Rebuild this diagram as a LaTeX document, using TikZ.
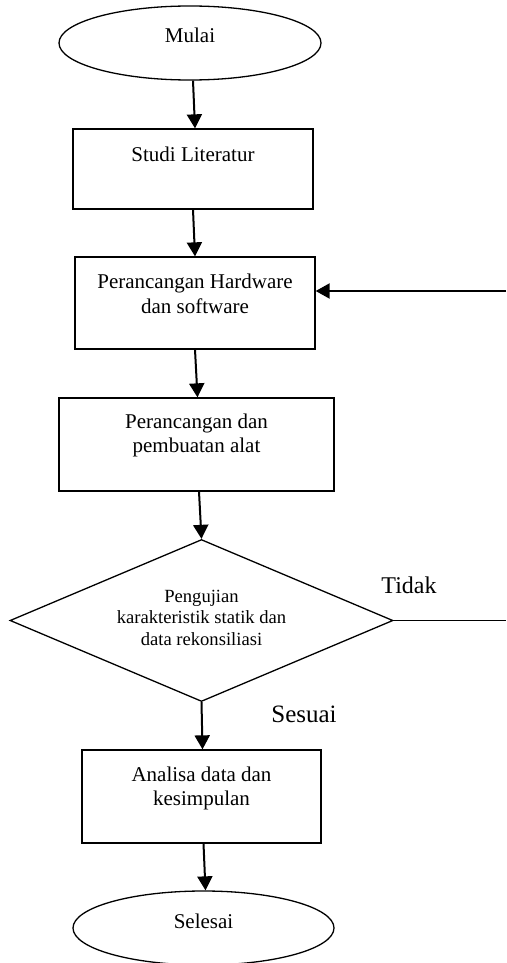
\documentclass[tikz,border=0pt]{standalone}
\usepackage{fontspec}
\setmainfont{Liberation Serif}
\usetikzlibrary{shapes.geometric,arrows.meta}
\begin{document}
\begin{tikzpicture}[x=1pt,y=-1pt,
  shp/.style={draw, line width=1.3pt, inner sep=0pt, align=center, font=\fontsize{21}{24.5}\selectfont},
  boxnode/.style={shp, rectangle},
  termnode/.style={shp, ellipse},
  decnode/.style={shp, diamond, shape aspect=2.36, font=\fontsize{18.6}{21.3}\selectfont},
  arr/.style={line width=2pt, -{Triangle[length=14pt,width=15pt]}},
  lbl/.style={inner sep=0pt, anchor=base}
]
\useasboundingbox (0,0) rectangle (506,963);
\node[termnode, minimum width=262pt, minimum height=74pt, text height=8pt, text depth=8pt] (mulai) at (190,43) {Mulai};
\node[boxnode, minimum width=240pt, minimum height=80pt, text height=8pt, text depth=24pt] (studi) at (193,169) {Studi Literatur};
\node[boxnode, minimum width=240pt, minimum height=92pt, text height=30pt, text depth=10pt] (hw) at (195,303) {Perancangan Hardware\\dan software};
\node[boxnode, minimum width=275pt, minimum height=93pt, text height=30pt, text depth=13.6pt] (alat) at (196.5,444.5) {Perancangan dan\\pembuatan alat};
\node[decnode, minimum width=383pt, minimum height=162pt, text height=55pt, text depth=6pt] (uji) at (201.5,620.5) {Pengujian\\karakteristik statik dan\\data rekonsiliasi};
\node[boxnode, minimum width=239pt, minimum height=93pt, text height=30pt, text depth=11.6pt] (analisa) at (201.5,796.5) {Analisa data dan\\kesimpulan};
\node[termnode, minimum width=261pt, minimum height=74pt, text height=8pt, text depth=8pt] (selesai) at (203.5,928) {Selesai};
\node[lbl, font=\fontsize{24}{28}\selectfont] (tidak) at (409,593) {Tidak};
\node[lbl, font=\fontsize{25}{30}\selectfont] (sesuai) at (304,722) {Sesuai};
\coordinate (fbin) at (506,291);
\coordinate (tidakout) at (506,620.5);
\draw[arr] ([xshift=3pt]mulai.south) -- ([xshift=2pt]studi.north);
\draw[arr] (studi.south) -- (hw.north);
\draw[arr] (hw.south) -- ([xshift=1pt]alat.north);
\draw[arr] ([xshift=2.5pt]alat.south) -- (uji.north);
\draw[arr] (uji.south) -- ([xshift=1pt]analisa.north);
\draw[arr] ([xshift=2pt]analisa.south) -- ([xshift=2pt]selesai.north);
\draw[arr] (fbin) -- (fbin -| hw.east);
\draw[line width=1.3pt] (uji.east) -- (tidakout);
\end{tikzpicture}
\end{document}
